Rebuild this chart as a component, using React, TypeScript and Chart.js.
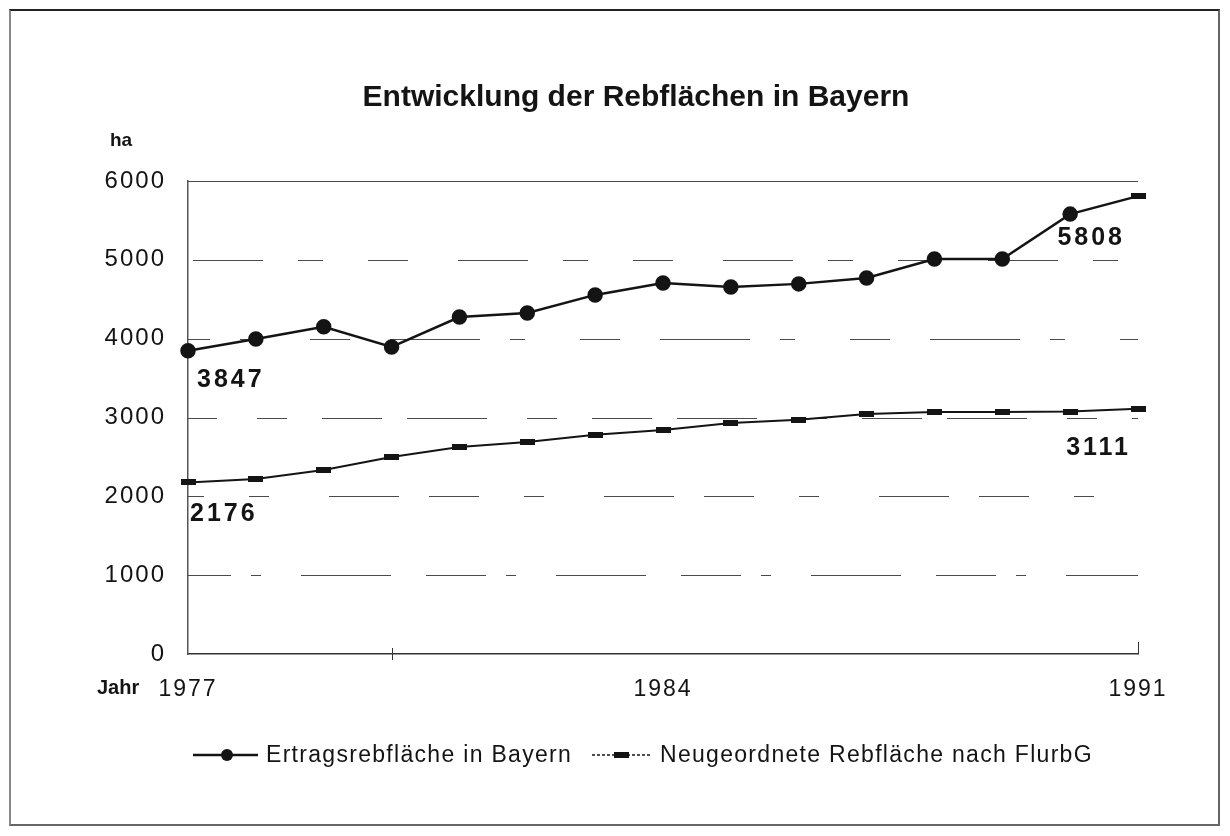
import React, { useEffect, useRef } from 'react';
import { Chart, registerables } from 'chart.js';

Chart.register(...registerables);

const chartTitle = 'Entwicklung der Rebflächen in Bayern';
const yUnit = 'ha';
const xUnit = 'Jahr';
const years = ['1977', '1978', '1979', '1980', '1981', '1982', '1983', '1984', '1985', '1986', '1987', '1988', '1989', '1990', '1991'];
const xTickLabels = ['1977', '1984', '1991'];
const yTickValues = [0, 1000, 2000, 3000, 4000, 5000, 6000];
const seriesNames = ['Ertragsrebfläche in Bayern', 'Neugeordnete Rebfläche nach FlurbG'];
const ertragsflaeche = [3847, 3995, 4150, 3895, 4275, 4325, 4555, 4705, 4655, 4695, 4770, 5010, 5010, 5580, 5808];
const neugeordnet = [2176, 2220, 2335, 2500, 2625, 2690, 2780, 2840, 2930, 2970, 3045, 3070, 3070, 3075, 3111];
// which points get a value label: [dataset, index]
const labelledPoints = [[0, 0], [0, 14], [1, 0], [1, 14]];

const FONT = '"Liberation Sans", Arial, Helvetica, sans-serif';
const INK = '#141414';

function makeBar(w: number, h: number) {
  const c = document.createElement('canvas');
  c.width = w;
  c.height = h;
  const g = c.getContext('2d')!;
  g.fillStyle = INK;
  g.fillRect(0, 0, w, h);
  return c;
}

export default function App() {
  const ref = useRef<HTMLCanvasElement | null>(null);

  useEffect(() => {
    const canvas = ref.current;
    if (!canvas) return;
    const bar = makeBar(15, 6);
    const allData = [ertragsflaeche, neugeordnet];

    const gridPlugin = {
      id: 'scanGrid',
      beforeDatasetsDraw(chart: any) {
        const { ctx, chartArea } = chart;
        const ys = chart.scales.y;
        const patterns = [[], [60, 20, 10, 40, 90, 35], [50, 45, 20, 60, 70, 30], [80, 40, 30, 35, 60, 25], [90, 30, 15, 55, 40, 40], [40, 50, 70, 35, 25, 45], []];
        ctx.save();
        ctx.strokeStyle = '#4a4a4a';
        ctx.lineWidth = 1.2;
        yTickValues.forEach((v, i) => {
          if (v === 0) return;
          const py = Math.round(ys.getPixelForValue(v)) + 0.5;
          ctx.setLineDash(patterns[i] || []);
          ctx.lineDashOffset = i * 17;
          ctx.beginPath();
          ctx.moveTo(chartArea.left, py);
          ctx.lineTo(chartArea.right, py);
          ctx.stroke();
        });
        // small tick marks on the year axis
        const xs = chart.scales.x;
        ctx.setLineDash([]);
        ctx.strokeStyle = '#333';
        ctx.lineWidth = 1;
        const tx = Math.round(xs.getPixelForValue(3)) + 0.5;
        ctx.beginPath();
        ctx.moveTo(tx, chartArea.bottom - 6);
        ctx.lineTo(tx, chartArea.bottom + 6);
        ctx.stroke();
        const rx = Math.round(xs.getPixelForValue(years.length - 1)) + 0.5;
        ctx.beginPath();
        ctx.moveTo(rx, chartArea.bottom - 12);
        ctx.lineTo(rx, chartArea.bottom);
        ctx.stroke();
        ctx.restore();
      },
    };

    const textPlugin = {
      id: 'scanText',
      beforeDraw(chart: any) {
        chart.ctx.letterSpacing = '2px';
      },
      afterDraw(chart: any) {
        const { ctx } = chart;
        ctx.save();
        ctx.letterSpacing = '0px';
        ctx.fillStyle = INK;
        // title
        ctx.font = `bold 30px ${FONT}`;
        ctx.textAlign = 'center';
        ctx.textBaseline = 'middle';
        ctx.fillText(chartTitle, 636, 98);
        // unit labels
        ctx.font = `bold 19px ${FONT}`;
        ctx.textAlign = 'left';
        ctx.fillText(yUnit, 110, 141);
        ctx.font = `bold 20px ${FONT}`;
        ctx.fillText(xUnit, 97, 688);

        // value labels
        ctx.font = `bold 25px ${FONT}`;
        ctx.letterSpacing = '3px';
        labelledPoints.forEach(([d, i]) => {
          const pt = chart.getDatasetMeta(d).data[i];
          const txt = String(allData[d][i]);
          const first = i === 0;
          ctx.textAlign = first ? 'left' : 'right';
          const dx = first ? (d === 0 ? 9 : 2) : (d === 0 ? -13 : -7);
          const dy = d === 0 ? (first ? 29 : 42) : (first ? 32 : 39);
          ctx.fillText(txt, pt.x + dx, pt.y + dy);
        });

        // legend
        const ly = 755;
        ctx.letterSpacing = '1.3px';
        ctx.font = `23px ${FONT}`;
        ctx.textAlign = 'left';
        ctx.strokeStyle = INK;
        // item 1
        ctx.lineWidth = 2.5;
        ctx.setLineDash([]);
        ctx.beginPath();
        ctx.moveTo(193, ly);
        ctx.lineTo(258, ly);
        ctx.stroke();
        ctx.beginPath();
        ctx.arc(227, ly, 6, 0, Math.PI * 2);
        ctx.fill();
        ctx.fillText(seriesNames[0], 266, ly + 1);
        // item 2
        ctx.lineWidth = 1.5;
        ctx.setLineDash([3, 2]);
        ctx.beginPath();
        ctx.moveTo(592, ly);
        ctx.lineTo(652, ly);
        ctx.stroke();
        ctx.setLineDash([]);
        ctx.fillRect(614, ly - 3, 15, 6);
        ctx.fillText(seriesNames[1], 660, ly + 1);
        ctx.restore();
      },
    };

    const chart = new Chart(canvas, {
      type: 'line',
      data: {
        labels: years,
        datasets: [
          {
            label: seriesNames[0],
            data: ertragsflaeche,
            borderColor: INK,
            backgroundColor: INK,
            borderWidth: 2.5,
            pointRadius: 6.5,
            pointHoverRadius: 6.5,
            pointStyle: (c: any) => (c.dataIndex === years.length - 1 ? bar : 'circle'),
            pointBackgroundColor: INK,
            pointBorderColor: INK,
            tension: 0,
          },
          {
            label: seriesNames[1],
            data: neugeordnet,
            borderColor: INK,
            backgroundColor: INK,
            borderWidth: 2,
            pointRadius: 6,
            pointHoverRadius: 6,
            pointStyle: bar,
            pointBackgroundColor: INK,
            pointBorderColor: INK,
            tension: 0,
          },
        ],
      },
      options: {
        animation: false,
        responsive: false,
        maintainAspectRatio: false,
        layout: { padding: { left: 0, top: 181, right: 92, bottom: 122 } },
        plugins: {
          legend: { display: false },
          title: { display: false },
          tooltip: { enabled: false },
        },
        events: [],
        scales: {
          x: {
            type: 'category',
            offset: false,
            grid: { display: false, drawTicks: false },
            border: { display: true, color: '#333', width: 1.5 },
            ticks: {
              autoSkip: false,
              maxRotation: 0,
              minRotation: 0,
              padding: 22,
              color: INK,
              font: { family: FONT, size: 23, lineHeight: 1.2 },
              callback: (_v: any, i: number) => (xTickLabels.includes(years[i]) ? years[i] : ''),
            },
            afterFit: (s: any) => {
              s.height = 60;
            },
          },
          y: {
            min: 0,
            max: 6000,
            grid: { display: false, drawTicks: false },
            border: { display: true, color: '#555', width: 1.5 },
            ticks: {
              stepSize: 1000,
              padding: 22,
              color: INK,
              font: { family: FONT, size: 24, lineHeight: 1.2 },
              callback: (v: any) => (yTickValues.includes(Number(v)) ? String(v) : ''),
            },
            afterFit: (s: any) => {
              s.width = 188;
            },
          },
        },
      },
      plugins: [gridPlugin, textPlugin],
    } as any);

    return () => chart.destroy();
  }, []);

  return (
    <div style={{ position: 'absolute', left: 0, top: 0, width: 1230, height: 836, background: '#fff' }}>
      <div
        style={{
          position: 'absolute',
          left: 9,
          top: 9,
          width: 1211,
          height: 817,
          boxSizing: 'border-box',
          borderTop: '2px solid #222',
          borderLeft: '2px solid #888',
          borderRight: '2px solid #666',
          borderBottom: '2px solid #666',
        }}
      />
      <canvas ref={ref} width={1230} height={836} style={{ position: 'absolute', left: 0, top: 0, width: 1230, height: 836 }} />
    </div>
  );
}
